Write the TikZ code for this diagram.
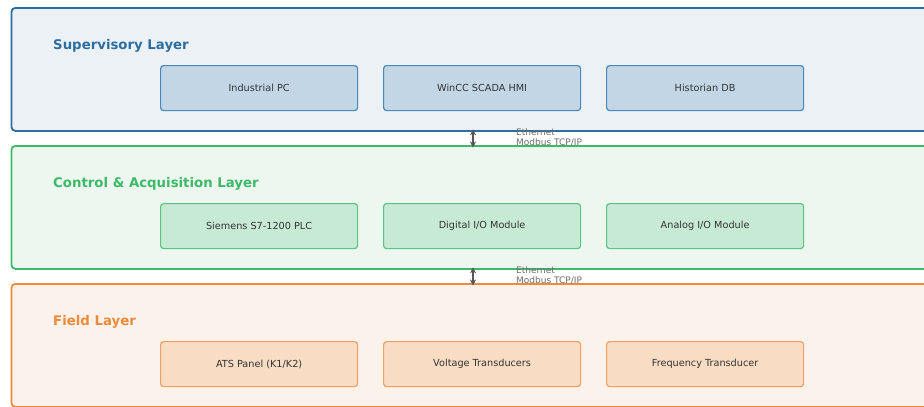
\documentclass[tikz,border=0pt]{standalone}
\usepackage{fontspec}
\setmainfont{DejaVu Sans}
\usetikzlibrary{arrows.meta}
\definecolor{supS}{HTML}{2E6DA0}
\definecolor{supF}{HTML}{ECF1F6}
\definecolor{supB}{HTML}{C3D6E5}
\definecolor{supE}{HTML}{4A89BC}
\definecolor{ctlS}{HTML}{3DB96A}
\definecolor{ctlF}{HTML}{EDF7EF}
\definecolor{ctlB}{HTML}{C6EAD3}
\definecolor{ctlE}{HTML}{5CC481}
\definecolor{fldS}{HTML}{EE8A3A}
\definecolor{fldF}{HTML}{FCF2EC}
\definecolor{fldB}{HTML}{F8DCC4}
\definecolor{fldE}{HTML}{F0A060}
\definecolor{txt}{HTML}{333333}
\definecolor{lnk}{HTML}{555555}
\definecolor{lbl}{HTML}{6E6E6E}
\tikzset{
  layer/.style={draw=#1, line width=1.8pt, rounded corners=4pt, minimum width=925pt, minimum height=123pt, anchor=north west, inner sep=0pt},
  unit/.style={rounded corners=3pt, line width=1.2pt, minimum width=197pt, minimum height=45pt, anchor=north west, inner sep=0pt, font=\fontsize{9.7}{11}\selectfont, text=txt},
  title/.style={anchor=west, font=\bfseries\fontsize{13.3}{15}\selectfont, inner sep=0pt},
  link/.style={{Stealth[length=6pt,width=6pt]}-{Stealth[length=6pt,width=6pt]}, line width=1.3pt, draw=lnk, shorten <=-2.5pt, shorten >=-2.5pt},
  linklabel/.style={anchor=west, align=left, font=\fontsize{9}{10}\selectfont, text=lbl, inner sep=0pt}
}
\begin{document}
\begin{tikzpicture}[x=1pt,y=-1pt]
\useasboundingbox (0,0) rectangle (924,407);
\fill[white] (0,0) rectangle (924,407);
\clip (0,0) rectangle (924,407);

% layer frames
\node[layer=supS, fill=supF] (sup) at (10.5,7) {};
\node[layer=ctlS, fill=ctlF] (ctl) at (10.5,145) {};
\node[layer=fldS, fill=fldF] (fld) at (10.5,283) {};

% layer titles
\node[title, text=supS] (tsup) at (53,45.5) {Supervisory Layer};
\node[title, text=ctlS] (tctl) at (53,183.5) {Control \& Acquisition Layer};
\node[title, text=fldS] (tfld) at (53,321.5) {Field Layer};

% supervisory devices
\node[unit, draw=supE, fill=supB] (ipc) at (160,65) {Industrial PC};
\node[unit, draw=supE, fill=supB] (hmi) at (383,65) {WinCC SCADA HMI};
\node[unit, draw=supE, fill=supB] (hist) at (606,65) {Historian DB};

% control devices
\node[unit, draw=ctlE, fill=ctlB] (plc) at (160,203) {Siemens S7-1200 PLC};
\node[unit, draw=ctlE, fill=ctlB] (dio) at (383,203) {Digital I/O Module};
\node[unit, draw=ctlE, fill=ctlB] (aio) at (606,203) {Analog I/O Module};

% field devices
\node[unit, draw=fldE, fill=fldB] (ats) at (160,341) {ATS Panel (K1/K2)};
\node[unit, draw=fldE, fill=fldB] (vt) at (383,341) {Voltage Transducers};
\node[unit, draw=fldE, fill=fldB] (ft) at (606,341) {Frequency Transducer};

% network links between layers
\coordinate (bus) at (473,0);
\draw[link] (sup.south -| bus) -- (ctl.north -| bus);
\draw[link] (ctl.south -| bus) -- (fld.north -| bus);
\node[linklabel] (l1) at (516,137.5) {Ethernet\\Modbus TCP/IP};
\node[linklabel] (l2) at (516,275.5) {Ethernet\\Modbus TCP/IP};
\end{tikzpicture}
\end{document}
